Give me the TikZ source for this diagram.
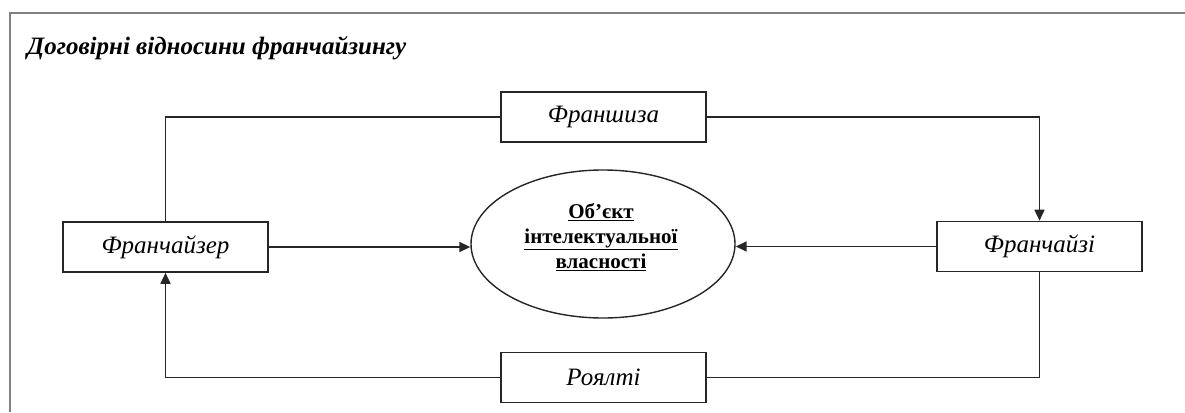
\documentclass[tikz,border=0pt]{standalone}
\usepackage{fontspec}
\setmainfont{Liberation Serif}
\usetikzlibrary{arrows.meta,shapes.geometric,calc}
\begin{document}
\begin{tikzpicture}[x=1pt,y=-1pt,
  conn/.style={draw=black!85,line width=1.6pt},
  arr/.style={conn,-{Triangle[length=11pt,width=10pt]}},
  termbox/.style={draw=black!85,line width=1.6pt,minimum width=205pt,minimum height=50pt,inner sep=0pt,font=\fontsize{25}{30}\selectfont\itshape},
]
\useasboundingbox (0,0) rectangle (1185,412);
\draw[draw=black!50,line width=2.2pt] (10,412) -- (10,13) -- (1185,13);
\node[anchor=base west,inner sep=0pt,font=\fontsize{25}{30}\selectfont\bfseries\itshape] (title) at (27,55) {Договірні відносини франчайзингу};
\node[termbox] (fsh) at (603.5,117) {Франшиза};
\node[termbox] (fr) at (165.5,247) {Франчайзер};
\node[termbox] (fi) at (1039.5,246.5) {Франчайзі};
\node[termbox] (roy) at (603.5,377.5) {Роялті};
\node[draw=black!85,line width=1.4pt,ellipse,minimum width=264pt,minimum height=148pt,inner sep=0pt] (ell) at (603,244) {};
\node[align=center,inner sep=0pt,font=\fontsize{21}{25}\selectfont\bfseries] (objtxt) at (601,237) {\underline{Об’єкт}\\\underline{інтелектуальної}\\\underline{власності}};
\draw[conn] (fr.north) |- (fsh.west);
\draw[arr] (fsh.east) -| (fi.north);
\draw[arr] (fr.east) -- (fr.east -| ell.west);
\draw[arr] (fi.west) -- (fi.west -| ell.east);
\draw[conn] (fi.south) |- (roy.east);
\draw[arr] (roy.west) -| (fr.south);
\end{tikzpicture}
\end{document}
